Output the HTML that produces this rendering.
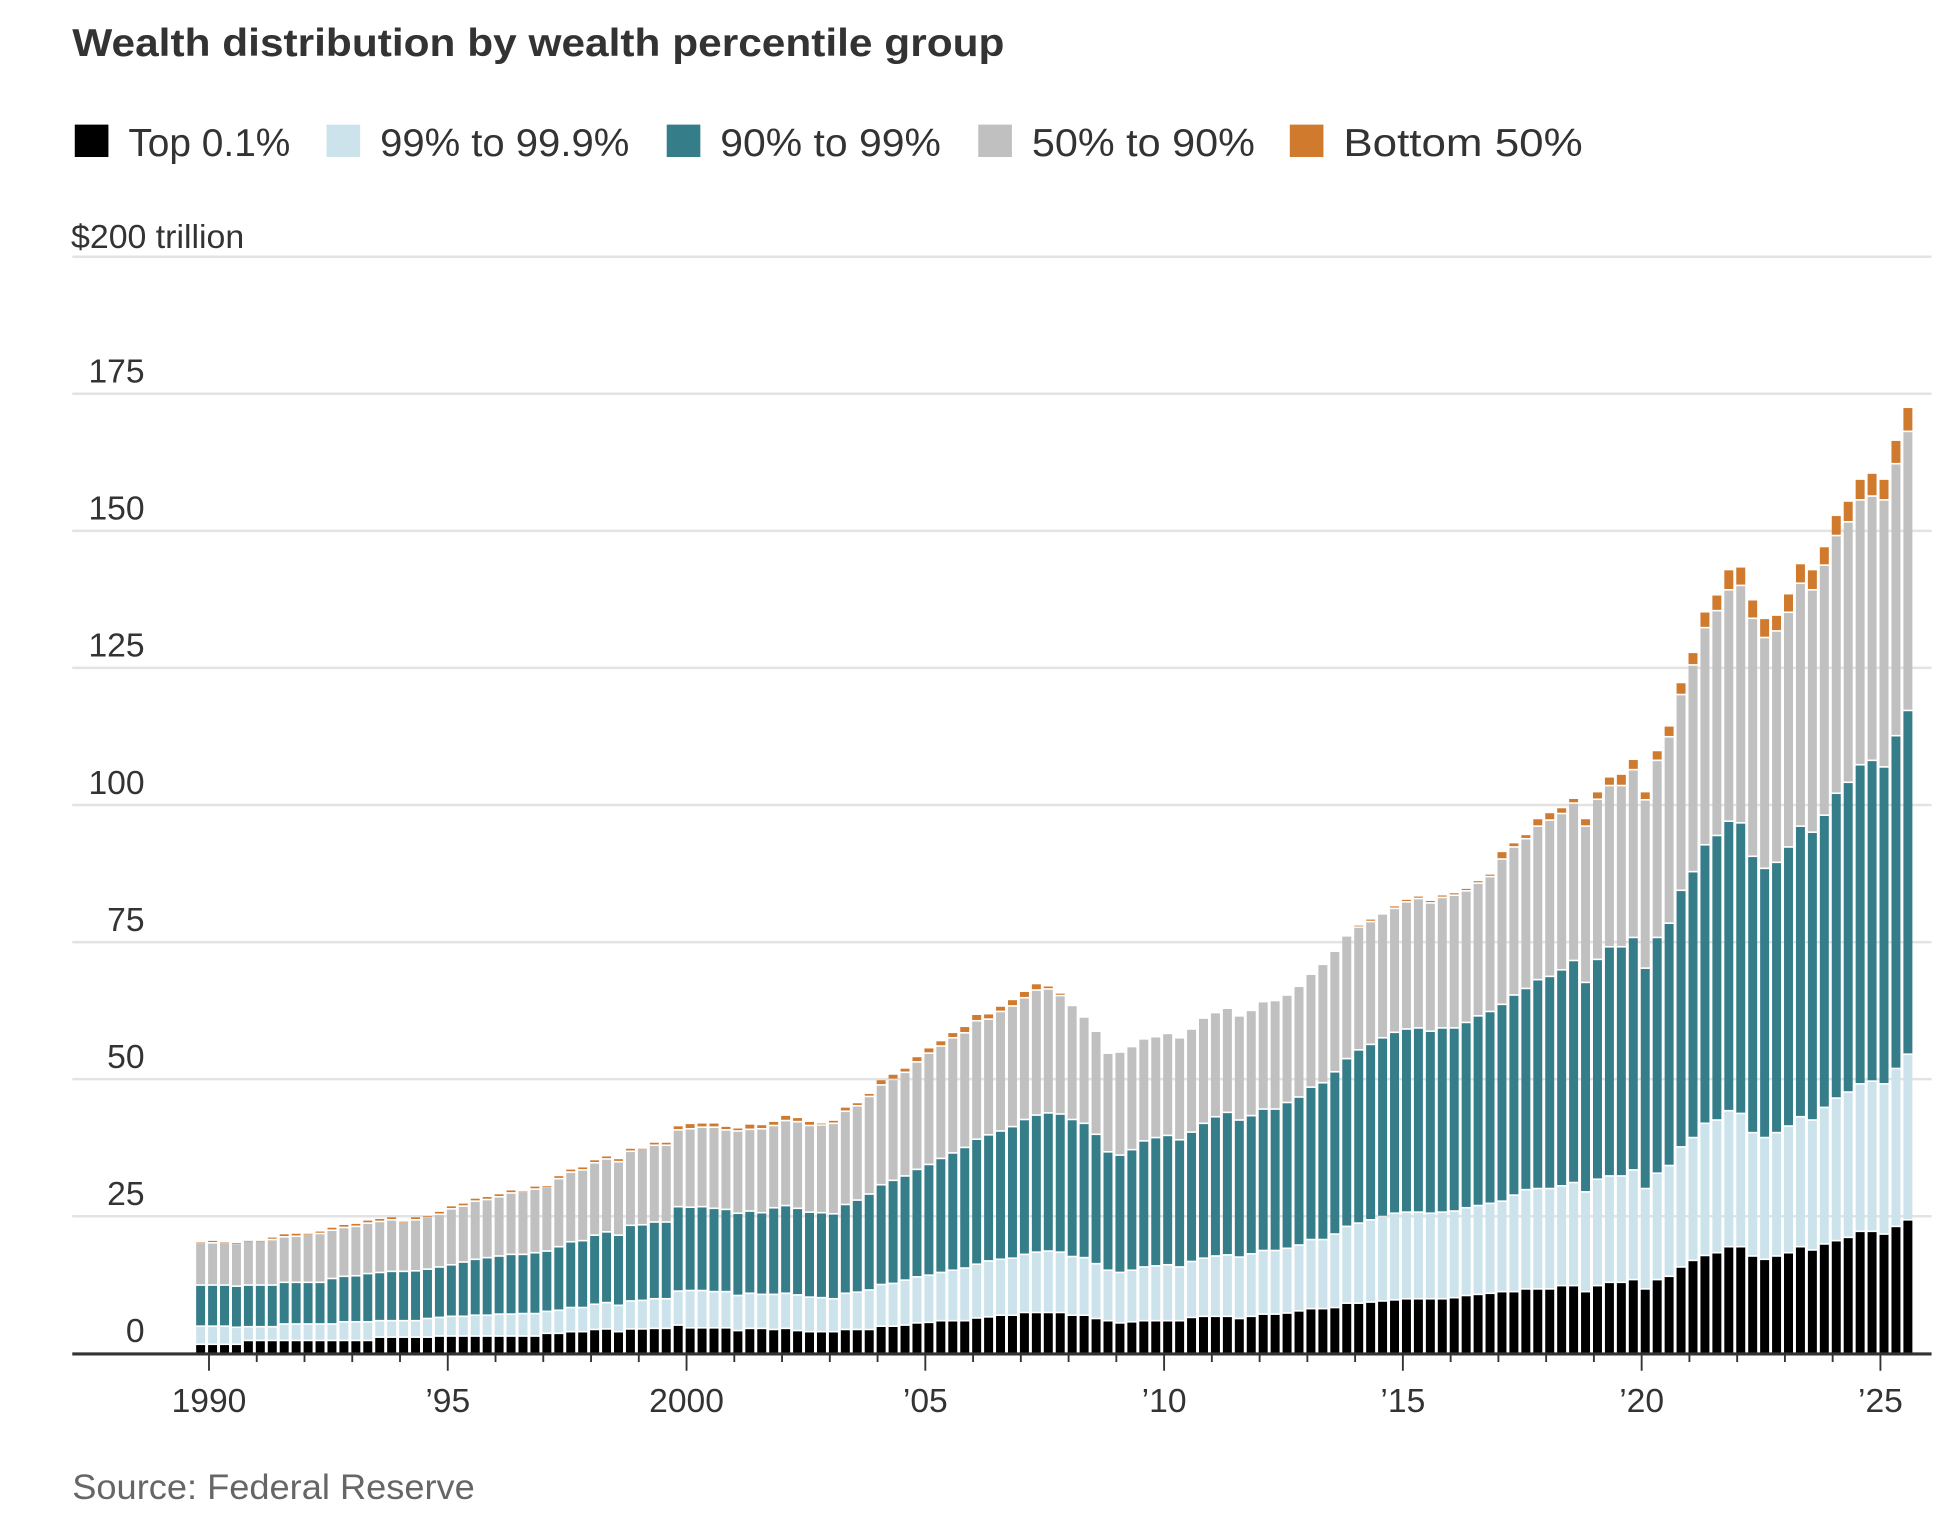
<!DOCTYPE html>
<html><head><meta charset="utf-8">
<style>
html,body{margin:0;padding:0;background:#fff;}
svg{display:block;}
text{font-family:"Liberation Sans Narrow","Liberation Sans",sans-serif;}
</style></head>
<body>
<svg id="chart" width="1954" height="1532" viewBox="0 0 1568 1229.4" preserveAspectRatio="none" xmlns="http://www.w3.org/2000/svg">
<text x="58" y="45" font-size="31" font-weight="bold" fill="#333" textLength="748" lengthAdjust="spacingAndGlyphs">Wealth distribution by wealth percentile group</text>
<g>
<g><rect x="60" y="100" width="27" height="26" fill="#000"/><text x="103" y="125" font-size="31" fill="#333" textLength="130" lengthAdjust="spacingAndGlyphs">Top 0.1%</text></g>
<g><rect x="262" y="100" width="27" height="26" fill="#cce3ec"/><text x="305" y="125" font-size="31" fill="#333" textLength="200" lengthAdjust="spacingAndGlyphs">99% to 99.9%</text></g>
<g><rect x="535" y="100" width="27" height="26" fill="#367d8a"/><text x="578" y="125" font-size="31" fill="#333" textLength="177" lengthAdjust="spacingAndGlyphs">90% to 99%</text></g>
<g><rect x="785" y="100" width="27" height="26" fill="#c0c0c0"/><text x="828" y="125" font-size="31" fill="#333" textLength="179" lengthAdjust="spacingAndGlyphs">50% to 90%</text></g>
<g><rect x="1035" y="100" width="27" height="26" fill="#d07a2e"/><text x="1078" y="125" font-size="31" fill="#333" textLength="192" lengthAdjust="spacingAndGlyphs">Bottom 50%</text></g>
</g>
<g id="grid"></g>
<g id="bars"></g>
<g id="xaxis"></g>
<text x="58" y="1203" font-size="28" fill="#666" textLength="323" lengthAdjust="spacingAndGlyphs">Source: Federal Reserve</text>
</svg>
<script>
const yTicks = [0, 25, 50, 75, 100, 125, 150, 175, 200];
const yTickLabels = ["0", "25", "50", "75", "100", "125", "150", "175", "$200 trillion"];
const xTickYears = [1990, 1995, 2000, 2005, 2010, 2015, 2020, 2025];
const xTickLabels = ["1990", "\u201995", "2000", "\u201905", "\u201910", "\u201915", "\u201920", "\u201925"];
const startYear = 1989;
const startQuarter = 4;
const top01 = [1.5,
1.5,1.5,1.5,2.2, 2.2,2.2,2.2,2.2, 2.2,2.2,2.2,2.2, 2.2,2.2,2.8,2.8, 2.8,2.8,2.8,3.0,
3.0,3.0,3.0,3.0, 3.0,3.0,3.0,3.0, 3.5,3.5,3.8,3.8, 4.2,4.3,3.8,4.3, 4.3,4.4,4.4,5.0,
4.5,4.5,4.5,4.5, 4.0,4.4,4.4,4.2, 4.4,4.0,3.8,3.8, 3.8,4.2,4.2,4.2, 4.8,4.8,5.0,5.4,
5.5,5.8,5.8,5.8, 6.3,6.5,6.8,6.8, 7.3,7.3,7.3,7.3, 6.8,6.8,6.2,5.8, 5.4,5.6,5.8,5.8,
5.8,5.8,6.4,6.6, 6.6,6.6,6.2,6.6, 7.0,7.0,7.2,7.6, 8.0,8.0,8.2,9.0, 9.0,9.2,9.4,9.6,
9.8,9.8,9.8,9.8, 10.0,10.4,10.6,10.8,
11.1,11.1,11.6,11.6,11.6,12.2,12.2,11.1,12.2,12.8,12.8,13.3,11.6,13.3,13.9,15.6,16.8,17.7,
18.2,19.3,19.3,17.6,17.0,17.6,18.2,19.3,18.7,19.8,20.4,21.0,22.1,22.1,21.6,23.0,24.2];
const p99to999 = [3.3,
3.3,3.3,3.1,2.5, 2.5,2.5,3.0,3.0, 3.0,3.0,3.0,3.4, 3.4,3.4,3.0,3.0, 3.0,3.0,3.4,3.4,
3.6,3.6,3.8,3.8, 4.0,4.0,4.1,4.1, 4.0,4.2,4.4,4.4, 4.6,4.8,4.8,5.1, 5.2,5.4,5.4,6.2,
6.8,6.8,6.6,6.6, 6.4,6.4,6.2,6.4, 6.4,6.5,6.3,6.2, 6.0,6.6,6.8,7.2, 7.6,7.8,8.2,8.4,
8.6,8.8,9.2,9.6, 9.8,10.2,10.2,10.4, 10.6,11.0,11.2,11.0, 10.7,10.5,10.0,9.2, 9.2,9.4,9.8,10.0,
10.2,9.8,10.2,10.6, 11.0,11.2,11.2,11.4, 11.6,11.6,11.8,12.0, 12.6,12.6,13.4,14.0, 14.6,15.0,15.4,15.8,
15.8,15.8,15.6,15.8, 15.8,16.0,16.2,16.4,
16.5,17.6,18.1,18.3,18.3,18.2,18.8,18.2,19.4,19.4,19.4,20.0,18.3,19.4,20.2,21.9,22.4,24.1,
24.2,24.8,24.3,22.5,22.2,22.5,23.1,23.7,23.7,24.9,26.0,26.5,26.9,27.4,27.4,28.8,30.2];
const p90to99 = [7.5,
7.5,7.5,7.5,7.6, 7.6,7.6,7.6,7.6, 7.6,7.6,8.3,8.3, 8.4,8.8,8.8,9.0, 9.0,9.1,9.0,9.2,
9.4,9.9,10.2,10.5, 10.6,10.9,10.8,11.1, 11.0,11.6,12.0,12.2, 12.6,12.9,12.8,13.8, 13.8,14.0,14.0,15.4,
15.2,15.3,15.2,15.0, 15.0,15.0,14.9,15.8, 16.0,15.8,15.5,15.5, 15.5,16.2,16.8,17.5, 18.2,18.8,19.0,19.6,
20.2,20.8,21.4,22.0, 22.8,23.0,23.4,24.0, 24.6,25.0,25.2,25.2, 25.0,24.5,23.6,21.6, 21.4,22.0,23.0,23.4,
23.6,23.2,23.6,24.6, 25.4,26.0,25.0,25.2, 25.8,25.8,26.6,27.0, 27.8,28.6,29.6,30.6, 31.6,32.0,32.6,33.0,
33.4,33.6,33.2,33.6, 33.4,33.8,34.6,35.0,
35.9,36.5,36.7,38.1,38.7,39.4,40.5,38.2,40.1,41.8,41.8,42.4,40.2,43.0,44.2,46.8,48.5,50.8,
51.9,52.8,53.0,50.4,49.1,49.3,50.9,53.0,52.5,53.3,55.6,56.5,58.2,58.5,57.8,60.7,62.7];
const p50to90 = [7.7,
7.7,7.7,7.8,8.0, 8.0,8.3,8.3,8.4, 8.8,8.9,8.8,8.9, 9.0,9.2,9.3,9.4, 9.0,9.3,9.6,9.6,
10.2,10.2,10.6,10.6, 10.8,11.2,11.4,11.6, 11.8,12.4,12.7,12.9, 13.2,13.3,13.4,13.5, 13.8,14.0,14.0,14.0,
14.3,14.5,14.8,14.5, 15.0,14.9,15.3,15.0, 15.5,15.8,15.8,16.0, 16.5,17.0,17.2,17.8, 18.2,18.4,18.9,19.6,
20.3,20.5,21.0,20.9, 21.6,21.1,21.8,22.0, 22.2,22.8,22.6,21.6, 20.8,19.4,18.8,18.0, 18.8,18.8,18.6,18.4,
18.6,18.6,18.8,19.2, 19.0,19.0,19.0,19.2, 19.6,19.8,19.6,20.2, 20.6,21.6,22.0,22.4, 22.4,22.4,22.6,22.6,
23.2,23.6,23.4,23.8, 24.2,24.0,24.2,24.6,
26.5,27.0,27.3,28.0,28.5,28.5,28.7,28.5,29.2,29.4,29.4,30.6,30.7,32.3,34.0,35.7,37.7,39.6,
41.0,42.2,43.3,43.4,42.1,42.2,42.8,44.3,44.2,45.6,47.0,47.5,48.3,48.2,48.7,49.6,50.9];
const bottom50 = [0.2,
0.5,0.2,0.2,0.2, 0.2,0.5,0.6,0.6, 0.2,0.5,0.6,0.6, 0.6,0.6,0.6,0.6, 0.2,0.6,0.2,0.6,
0.6,0.6,0.6,0.6, 0.6,0.6,0.2,0.6, 0.2,0.6,0.6,0.6, 0.6,0.6,0.6,0.6, 0.2,0.6,0.6,0.8,
1.0,0.8,0.8,0.7, 0.6,1.0,0.8,0.8, 1.0,0.8,0.8,0.4, 0.6,0.8,0.6,0.6, 1.0,1.0,0.8,1.0,
1.0,1.0,1.0,1.2, 1.2,1.0,1.0,1.2, 1.2,1.2,0.6,0.5, 0,0,0,0, 0,0,0,0,
0,0,0,0, 0,0,0,0, 0,0,0,0, 0,0,0,0, 0.4,0.5,0,0.5,
0.5,0.5,0.5,0.5, 0.5,0.5,0.5,0.5,
1.4,0.8,0.8,1.4,1.4,1.1,0.9,1.4,1.4,1.6,2.1,1.9,1.5,1.8,2.0,2.2,2.3,2.9,
2.9,3.7,3.4,3.4,3.5,2.9,3.4,3.6,3.7,3.4,3.7,3.8,3.8,4.2,3.8,4.3,4.4];

const NS = "http://www.w3.org/2000/svg";
const series = [top01, p99to999, p90to99, p50to90, bottom50];
const seriesNames = ["top-0-1", "99-to-99-9", "90-to-99", "50-to-90", "bottom-50"];
const colors = ["#000000", "#cce3ec", "#367d8a", "#c0c0c0", "#d07a2e"];
const n = top01.length;
const plotLeft = 58, plotRight = 1550, baseY = 1086, pxPerUnit = 4.4;
const firstBarX = 161, lastBarX = 1531, barW = 7.2;
function yScale(v) { return baseY - v * pxPerUnit; }
function xScale(i) { return firstBarX + i * (lastBarX - firstBarX) / (n - 1); }
function xYear(yr) { return xScale((yr - startYear) * 4 - (startQuarter - 1) - 0.3); }

const grid = document.getElementById('grid');
yTicks.forEach((t, k) => {
  const y = yScale(t);
  if (t !== 0) {
    const l = document.createElementNS(NS, 'line');
    
    
    l.setAttribute('x1', plotLeft); l.setAttribute('x2', plotRight);
    l.setAttribute('y1', y); l.setAttribute('y2', y);
    l.setAttribute('stroke', '#e3e3e3'); l.setAttribute('stroke-width', '2');
    grid.appendChild(l);
  }
  const tx = document.createElementNS(NS, 'text');
  
  
  tx.setAttribute('font-size', '27');
  tx.setAttribute('fill', '#333');
  if (k === yTicks.length - 1) {
    tx.setAttribute('x', 57);
    tx.setAttribute('y', y - 7);
    tx.setAttribute('textLength', '139');
    tx.setAttribute('lengthAdjust', 'spacingAndGlyphs');
  } else {
    tx.setAttribute('x', 116);
    tx.setAttribute('y', y - 9);
    tx.setAttribute('text-anchor', 'end');
  }
  tx.textContent = yTickLabels[k];
  grid.appendChild(tx);
});

const bars = document.getElementById('bars');
for (let i = 0; i < n; i++) {
  const g = document.createElementNS(NS, 'g');
  
  
  let cum = 0;
  for (let s = 0; s < series.length; s++) {
    const v = series[s][i];
    if (v > 0) {
      const y0 = yScale(cum), y1 = yScale(cum + v);
      const r = document.createElementNS(NS, 'rect');
      
      
      const gap = s === 0 ? 0 : 1.3;
      r.setAttribute('x', xScale(i) - barW / 2);
      r.setAttribute('width', barW);
      r.setAttribute('y', y1);
      r.setAttribute('height', Math.max(0.6, y0 - y1 - gap));
      r.setAttribute('fill', colors[s]);
      g.appendChild(r);
    }
    cum += v;
  }
  bars.appendChild(g);
}

const xa = document.getElementById('xaxis');
const axis = document.createElementNS(NS, 'line');


axis.setAttribute('x1', plotLeft); axis.setAttribute('x2', plotRight);
axis.setAttribute('y1', baseY + 0.5); axis.setAttribute('y2', baseY + 0.5);
axis.setAttribute('stroke', '#333'); axis.setAttribute('stroke-width', '2.5');
xa.appendChild(axis);
for (let yr = 1990; yr <= 2025; yr++) {
  const x = xYear(yr);
  const major = xTickYears.indexOf(yr) >= 0;
  const t = document.createElementNS(NS, 'line');
  
  
  t.setAttribute('x1', x); t.setAttribute('x2', x);
  t.setAttribute('y1', baseY); t.setAttribute('y2', baseY + (major ? 14 : 7));
  t.setAttribute('stroke', '#333'); t.setAttribute('stroke-width', '1.5');
  xa.appendChild(t);
}
xTickYears.forEach((yr, k) => {
  const tx = document.createElementNS(NS, 'text');
  
  
  tx.setAttribute('x', xYear(yr));
  tx.setAttribute('y', 1133);
  tx.setAttribute('text-anchor', 'middle');
  tx.setAttribute('font-size', '27');
  tx.setAttribute('fill', '#333');
  tx.textContent = xTickLabels[k];
  xa.appendChild(tx);
});
</script>
</body></html>
